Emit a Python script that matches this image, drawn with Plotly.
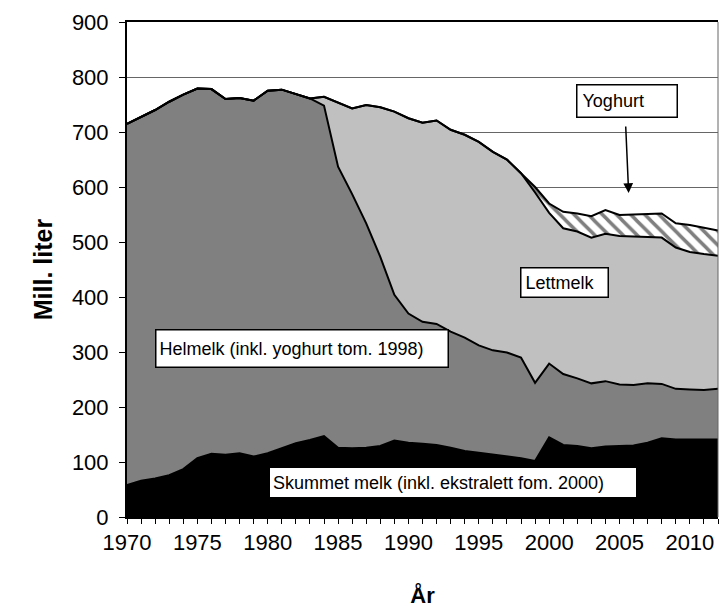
import plotly.graph_objects as go

# årstall 1970-2012
aar = list(range(1970, 2013))

# Mill. liter, lest av figuren
skummet = [58, 66, 70, 76, 87, 107, 115, 113, 116, 110,
           116, 125, 134, 140, 147, 126, 125, 126, 129, 139,
           135, 133, 131, 126, 120, 117, 114, 111, 107, 102,
           145, 131, 129, 125, 128, 129, 130, 135, 143, 141,
           141, 141, 141]
helmelk = [657, 662, 670, 679, 681, 672, 663, 647, 646, 647,
           659, 652, 635, 621, 601, 511, 462, 408, 344, 265,
           235, 222, 220, 211, 206, 195, 189, 188, 183, 142,
           134, 129, 123, 118, 119, 112, 110, 108, 99, 92,
           91, 90, 92]
lettmelk = [0, 0, 0, 0, 0, 0, 0, 0, 0, 0,
            0, 0, 0, 0, 16, 116, 156, 215, 272, 333,
            355, 362, 370, 367, 369, 370, 361, 351, 335, 346,
            274, 265, 267, 265, 268, 270, 270, 266, 266, 257,
            250, 247, 242]
yoghurt = [0, 0, 0, 0, 0, 0, 0, 0, 0, 0,
           0, 0, 0, 0, 0, 0, 0, 0, 0, 0,
           0, 0, 0, 0, 0, 0, 0, 0, 0, 10,
           17, 30, 33, 39, 43, 38, 40, 42, 44, 44,
           49, 48, 46]

FONT = "Liberation Sans, Arial, sans-serif"
linje = dict(color="black", width=2)

fig = go.Figure()
fig.add_trace(go.Scatter(x=aar, y=skummet, stackgroup="s", mode="lines",
                         line=linje, fillcolor="black", name="Skummet melk"))
fig.add_trace(go.Scatter(x=aar, y=helmelk, stackgroup="s", mode="lines",
                         line=linje, fillcolor="#808080", name="Helmelk"))
fig.add_trace(go.Scatter(x=aar, y=lettmelk, stackgroup="s", mode="lines",
                         line=linje, fillcolor="#c0c0c0", name="Lettmelk"))
fig.add_trace(go.Scatter(x=aar, y=yoghurt, stackgroup="s", mode="lines",
                         line=linje, fillcolor="white", name="Yoghurt",
                         fillpattern=dict(shape="\\", fgcolor="black", bgcolor="white",
                                          size=10, solidity=0.35)))

# tekstbokser
boks = dict(showarrow=False, font=dict(family=FONT, size=18, color="black"),
            bgcolor="white", align="left", xanchor="center", yanchor="middle")
fig.add_annotation(x=2005.55, y=757, text="Yoghurt", width=89, height=21,
                   bordercolor="black", borderwidth=1.5, borderpad=5, **boks)
fig.add_annotation(x=2001.1, y=427, text="Lettmelk", width=78, height=20,
                   bordercolor="black", borderwidth=1.5, borderpad=4, **boks)
fig.add_annotation(x=1982.43, y=305.5, text="Helmelk (inkl. yoghurt tom. 1998)",
                   width=285, height=30, bordercolor="black", borderwidth=1.5,
                   borderpad=3, **boks)
fig.add_annotation(x=1993.17, y=62.7, text="Skummet melk (inkl. ekstralett fom. 2000)",
                   width=360, height=23, borderwidth=0, borderpad=3, **boks)
# pil mot yoghurt
fig.add_annotation(x=2005.65, y=589, text="", showarrow=True, ax=-3, ay=-68,
                   arrowhead=2, arrowsize=1.3, arrowwidth=1.5, arrowcolor="black")

fig.update_xaxes(range=[1970, 2012], dtick=5, tick0=1970, automargin=False,
                 showgrid=False, zeroline=False,
                 showline=True, linecolor="black", linewidth=2, mirror=True,
                 ticks="outside", ticklen=5, tickwidth=1, tickcolor="black",
                 minor=dict(dtick=1, ticks="outside", ticklen=5, tickcolor="black"),
                 tickfont=dict(family=FONT, size=22, color="black"),
                 title=dict(text="<b>År</b>", font=dict(family=FONT, size=22, color="black"),
                            standoff=34))
fig.update_yaxes(range=[0, 900], dtick=100, automargin=False,
                 showgrid=True, gridcolor="#666666", gridwidth=1, zeroline=False,
                 showline=True, linecolor="black", linewidth=2,
                 ticks="outside", ticklen=6, tickwidth=1, tickcolor="black",
                 ticklabelstandoff=6,
                 tickfont=dict(family=FONT, size=22, color="black"),
                 title=dict(text="<b>Mill. liter</b>", font=dict(family=FONT, size=25, color="black"),
                            standoff=12))

# tynn ramme på høyre side
fig.add_shape(type="line", xref="paper", yref="paper", x0=1, x1=1, y0=0, y1=1,
              line=dict(color="#666666", width=1))

fig.update_layout(width=720, height=608, showlegend=False,
                  margin=dict(l=127, r=2, t=22, b=91),
                  paper_bgcolor="white", plot_bgcolor="white",
                  font=dict(family=FONT, color="black"))

# fjern standardmargen i body så figuren ligger i hjørnet
fig.write_html("out.html", config={"displayModeBar": False},
               post_script="document.body.style.margin='0';")
